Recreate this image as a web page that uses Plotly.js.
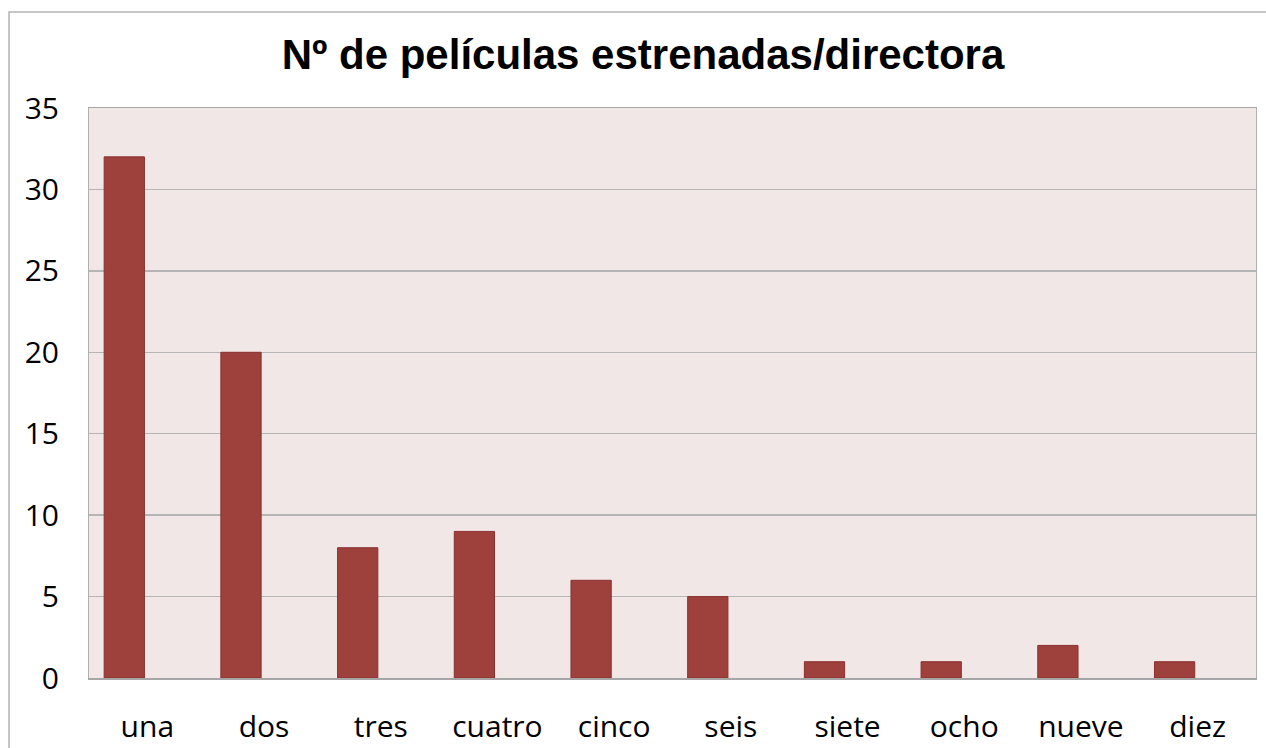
<!DOCTYPE html>
<html>
<head>
<meta charset="utf-8">
<script src="https://cdn.plot.ly/plotly-3.0.1.min.js"></script>
<style>
html,body{margin:0;padding:0;background:#fff;}
#chart{width:1266px;height:748px;}
</style>
</head>
<body>
<div id="chart"></div>
<script>
const categories = ["una", "dos", "tres", "cuatro", "cinco", "seis", "siete", "ocho", "nueve", "diez"];
const values = [32, 20, 8, 9, 6, 5, 1, 1, 2, 1];
const yTicks = [0, 5, 10, 15, 20, 25, 30, 35];
const titleText = "Nº de películas estrenadas/directora";

const trace = {
  type: "bar",
  x: categories,
  y: values,
  width: 0.345,
  offset: -0.37,
  marker: {color: "#9E403C", line: {color: "#8A302E", width: 1}},
  hoverinfo: "x+y"
};

const layout = {
  width: 1266,
  height: 748,
  margin: {l: 89, r: 10, t: 108, b: 70},
  paper_bgcolor: "#ffffff",
  plot_bgcolor: "#F2E7E7",
  showlegend: false,
  title: {
    text: titleText,
    font: {family: "Liberation Sans, Arial, sans-serif", size: 42, color: "#000000", weight: "bold"},
    x: 643 / 1266, xref: "container", xanchor: "center",
    y: 1 - 54/748, yref: "container", yanchor: "middle"
  },
  xaxis: {
    type: "category",
    showgrid: false,
    showline: true,
    linecolor: "#A6A6A6",
    linewidth: 1.5,
    mirror: true,
    ticks: "",
    tickfont: {family: "Open Sans, sans-serif", size: 30, color: "#000"},
    ticklabelstandoff: 21,
    range: [-0.5, 9.5],
    fixedrange: true
  },
  yaxis: {
    range: [0, 35],
    tickvals: yTicks,
    showgrid: true,
    gridcolor: "#B5B5B5",
    gridwidth: 1.5,
    showline: true,
    linecolor: "#B0B0B0",
    linewidth: 1,
    mirror: true,
    zeroline: false,
    ticks: "",
    tickfont: {family: "Open Sans, sans-serif", size: 30, color: "#000"},
    ticklabelstandoff: 23,
    fixedrange: true
  },
  shapes: [
    {type: "rect", xref: "paper", yref: "paper",
     x0: (9 - 89) / 1167, x1: 1.2, y0: -0.3, y1: 1 + (108 - 12) / 570,
     line: {color: "#B4B4B4", width: 1.5}, fillcolor: "rgba(0,0,0,0)", layer: "below"}
  ]
};

Plotly.newPlot("chart", [trace], layout, {displayModeBar: false, staticPlot: true});
</script>
</body>
</html>
